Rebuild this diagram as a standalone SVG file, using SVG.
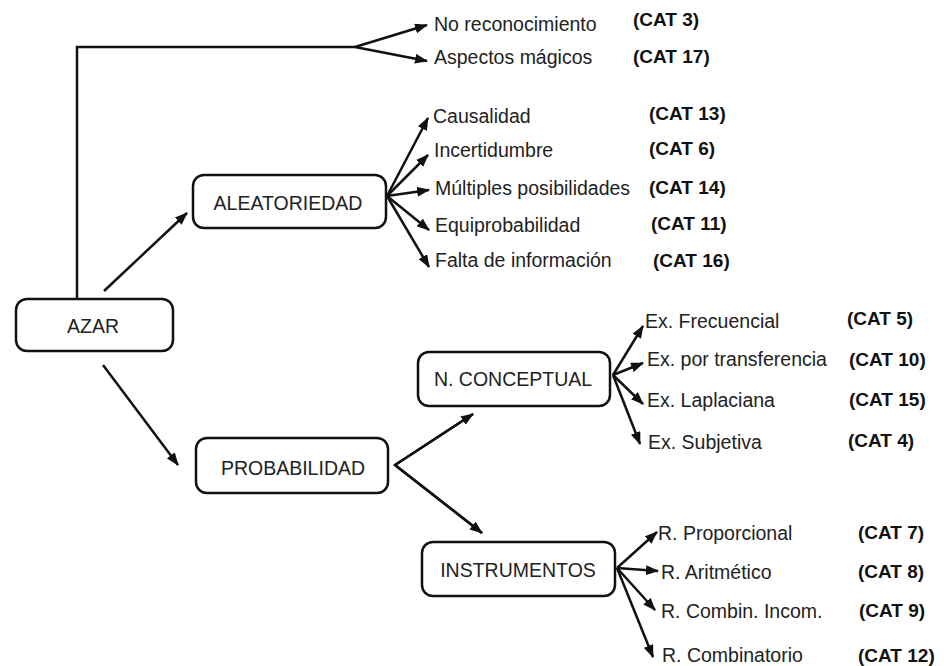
<svg xmlns="http://www.w3.org/2000/svg" width="944" height="666" viewBox="0 0 944 666">
  <defs>
    <marker id="arrow" markerUnits="userSpaceOnUse" markerWidth="13" markerHeight="10" refX="12" refY="5" orient="auto">
      <path d="M0,0 L13,5 L0,10 z" fill="#111"/>
    </marker>
    <style>
      .box { fill: #fff; stroke: #111; stroke-width: 2.5; }
      .lbl { font-family: "Liberation Sans", Arial, sans-serif; font-size: 19.5px; fill: #222; }
      .node { text-anchor: middle; }
      .cat { font-family: "Liberation Sans", Arial, sans-serif; font-size: 19px; font-weight: bold; fill: #111; }
      .edge { fill: none; stroke: #111; stroke-width: 2.5; }
      .arr { marker-end: url(#arrow); }
    </style>
  </defs>
  <rect width="944" height="666" fill="#fff"/>

  <!-- connectors -->
  <g id="connectors">
    <polyline class="edge" points="77,299 77,47 355,47"/>
    <line class="edge arr" x1="355" y1="47" x2="427" y2="25"/>
    <line class="edge arr" x1="355" y1="47" x2="427" y2="61"/>

    <line class="edge arr" x1="104" y1="291" x2="187" y2="213"/>
    <line class="edge arr" x1="103" y1="365" x2="178" y2="465"/>

    <line class="edge arr" x1="387" y1="196" x2="428" y2="118"/>
    <line class="edge arr" x1="387" y1="196" x2="428" y2="155"/>
    <line class="edge arr" x1="387" y1="196" x2="429" y2="190"/>
    <line class="edge arr" x1="387" y1="196" x2="429" y2="230"/>
    <line class="edge arr" x1="387" y1="196" x2="429" y2="267"/>

    <polyline class="edge" points="473,414 395,465 482,533"/>
    <line class="edge arr" x1="395" y1="465" x2="473" y2="414"/>
    <line class="edge arr" x1="395" y1="465" x2="482" y2="533"/>

    <line class="edge arr" x1="613" y1="375" x2="643" y2="326"/>
    <line class="edge arr" x1="613" y1="375" x2="643" y2="363"/>
    <line class="edge arr" x1="613" y1="375" x2="643" y2="404"/>
    <line class="edge arr" x1="613" y1="375" x2="640" y2="444"/>

    <line class="edge arr" x1="617" y1="568" x2="657" y2="532"/>
    <line class="edge arr" x1="617" y1="568" x2="658" y2="571"/>
    <line class="edge arr" x1="617" y1="568" x2="655" y2="610"/>
    <line class="edge arr" x1="617" y1="568" x2="653" y2="657"/>
  </g>

  <!-- boxed nodes -->
  <g id="azar">
    <rect class="box" x="16" y="299" width="157" height="52" rx="11"/>
    <text class="lbl node" x="93" y="333">AZAR</text>
  </g>
  <g id="aleatoriedad">
    <rect class="box" x="193" y="175" width="193" height="53" rx="11"/>
    <text class="lbl node" x="288" y="210">ALEATORIEDAD</text>
  </g>
  <g id="probabilidad">
    <rect class="box" x="196" y="438" width="192" height="55" rx="11"/>
    <text class="lbl node" x="293" y="475">PROBABILIDAD</text>
  </g>
  <g id="n-conceptual">
    <rect class="box" x="418" y="352" width="192" height="54" rx="11"/>
    <text class="lbl node" x="513" y="386">N. CONCEPTUAL</text>
  </g>
  <g id="instrumentos">
    <rect class="box" x="422" y="542" width="193" height="54" rx="11"/>
    <text class="lbl node" x="518" y="577">INSTRUMENTOS</text>
  </g>

  <!-- leaf labels -->
  <g id="no-reconocimiento"><text class="lbl" x="434" y="31">No reconocimiento</text><text class="cat" x="633" y="26">(CAT 3)</text></g>
  <g id="aspectos-magicos"><text class="lbl" x="434" y="64">Aspectos mágicos</text><text class="cat" x="633" y="63">(CAT 17)</text></g>

  <g id="causalidad"><text class="lbl" x="433" y="123">Causalidad</text><text class="cat" x="649" y="120">(CAT 13)</text></g>
  <g id="incertidumbre"><text class="lbl" x="434" y="157">Incertidumbre</text><text class="cat" x="649" y="155">(CAT 6)</text></g>
  <g id="multiples"><text class="lbl" x="435" y="195">Múltiples posibilidades</text><text class="cat" x="649" y="194">(CAT 14)</text></g>
  <g id="equiprobabilidad"><text class="lbl" x="435" y="232">Equiprobabilidad</text><text class="cat" x="651" y="230">(CAT 11)</text></g>
  <g id="falta-informacion"><text class="lbl" x="435" y="267">Falta de información</text><text class="cat" x="653" y="267">(CAT 16)</text></g>

  <g id="ex-frecuencial"><text class="lbl" x="645" y="328">Ex. Frecuencial</text><text class="cat" x="847" y="325">(CAT 5)</text></g>
  <g id="ex-transferencia"><text class="lbl" x="647" y="366">Ex. por transferencia</text><text class="cat" x="849" y="366">(CAT 10)</text></g>
  <g id="ex-laplaciana"><text class="lbl" x="647" y="407">Ex. Laplaciana</text><text class="cat" x="849" y="406">(CAT 15)</text></g>
  <g id="ex-subjetiva"><text class="lbl" x="648" y="449">Ex. Subjetiva</text><text class="cat" x="848" y="447">(CAT 4)</text></g>

  <g id="r-proporcional"><text class="lbl" x="658" y="540">R. Proporcional</text><text class="cat" x="858" y="539">(CAT 7)</text></g>
  <g id="r-aritmetico"><text class="lbl" x="661" y="579">R. Aritmético</text><text class="cat" x="858" y="578">(CAT 8)</text></g>
  <g id="r-combin-incom"><text class="lbl" x="661" y="618">R. Combin. Incom.</text><text class="cat" x="859" y="617">(CAT 9)</text></g>
  <g id="r-combinatorio"><text class="lbl" x="662" y="662">R. Combinatorio</text><text class="cat" x="858" y="662">(CAT 12)</text></g>
</svg>
